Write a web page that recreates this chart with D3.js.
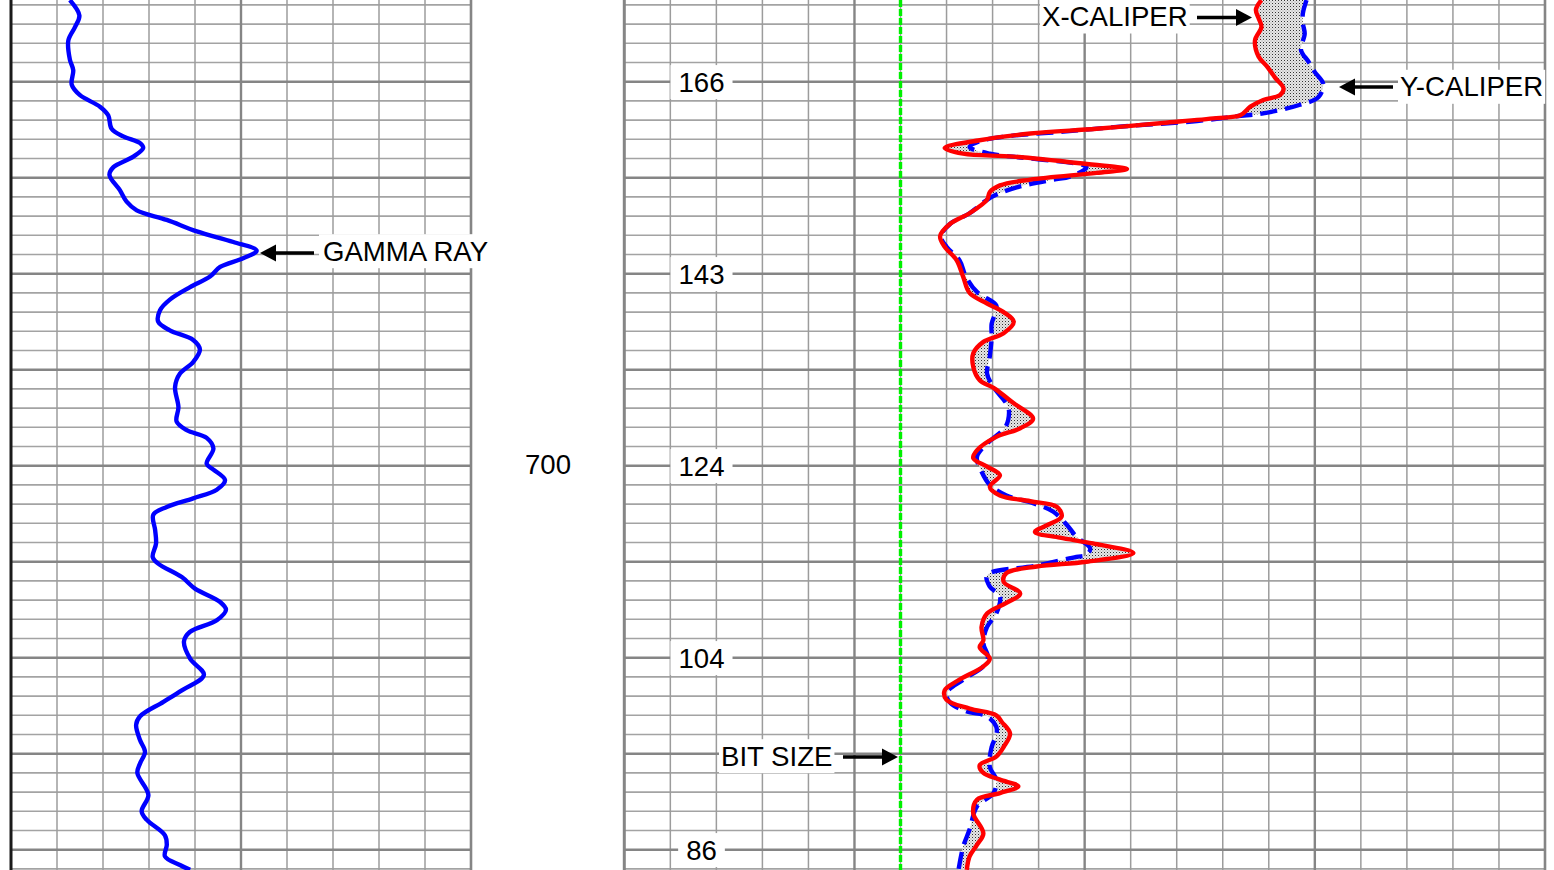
<!DOCTYPE html>
<html><head><meta charset="utf-8">
<script src="https://cdn.jsdelivr.net/npm/d3@7"></script>
<style>html,body{margin:0;padding:0;background:#fff;overflow:hidden}</style>
</head><body><svg id="c" width="1554" height="870"></svg>
<script>
// ---------------- DATA ----------------
// Gamma ray: [depth (ft), API]
const gammaRay = [
[651.5,19.2],[653.1,22.3],[654.3,20.9],[655.7,18.7],[657.7,19.2],[658.8,20.3],[660.3,19.8],[661.4,22.5],[662.6,29.0],[663.5,31.7],[664.9,32.8],[665.7,36.6],[666.4,42.1],[666.9,43.1],[667.8,39.9],[668.9,33.4],[669.7,32.1],[671.3,35.5],[672.5,37.7],[673.4,41.0],[674.4,50.8],[675.6,60.6],[676.7,72.5],[677.6,80.1],[678.4,75.7],[679.3,68.2],[680.3,64.9],[681.4,58.4],[682.7,51.8],[683.8,48.6],[685.0,48.0],[685.9,51.8],[686.9,59.4],[687.9,61.6],[689.2,59.4],[690.4,55.1],[691.8,53.5],[693.9,54.6],[695.4,54.0],[696.3,57.3],[697.1,63.8],[698.2,66.0],[699.8,63.8],[700.4,66.0],[701.5,69.8],[702.5,67.1],[703.4,59.4],[704.3,50.8],[705.1,46.4],[706.7,47.0],[708.1,47.3],[709.5,46.2],[710.2,48.0],[711.6,55.7],[712.8,60.0],[714.2,68.2],[715.0,70.1],[716.1,67.1],[717.3,58.4],[718.3,56.4],[720.1,58.4],[721.8,62.9],[723.4,55.7],[724.6,49.7],[726.1,42.1],[727.0,40.8],[728.6,42.1],[729.8,43.7],[731.0,42.1],[732.0,41.2],[734.3,44.8],[736.0,42.6],[736.9,44.3],[738.5,50.2],[739.5,50.8],[740.7,50.2],[741.6,55.1],[742.1,58.4]
];
// X-caliper: [depth (ft), inches]
const xCaliper = [
[651.5,12.92],[652.5,12.86],[653.4,12.89],[654.3,12.92],[655.7,12.85],[657.4,12.89],[658.4,12.98],[659.6,13.07],[660.7,13.16],[661.4,13.12],[661.9,12.94],[662.6,12.80],[663.5,12.69],[663.8,12.43],[664.3,11.85],[664.9,11.13],[665.4,10.41],[666.1,9.86],[666.9,9.48],[667.5,9.68],[667.8,10.23],[668.5,10.95],[669.1,11.46],[669.5,11.13],[670.2,10.41],[670.8,10.08],[671.5,9.97],[672.3,9.94],[673.7,9.75],[674.8,9.54],[676.1,9.43],[677.2,9.48],[678.6,9.61],[680.3,9.68],[682.0,9.75],[683.1,9.94],[684.0,10.12],[685.0,10.23],[686.2,10.12],[687.1,9.90],[688.3,9.79],[689.7,9.79],[691.1,9.86],[691.9,10.01],[693.5,10.23],[695.1,10.44],[696.1,10.30],[697.0,10.04],[698.4,9.83],[699.2,9.79],[700.1,9.94],[701.0,10.08],[702.2,9.97],[703.1,10.08],[703.7,10.41],[704.3,10.70],[705.3,10.75],[706.2,10.59],[706.9,10.46],[707.5,10.73],[708.1,11.09],[709.1,11.53],[710.0,11.02],[710.5,10.48],[711.2,10.15],[712.1,10.12],[713.3,10.30],[714.3,10.15],[715.4,9.94],[716.8,9.88],[718.2,9.90],[718.9,9.86],[720.1,9.97],[720.9,9.90],[722.4,9.62],[723.4,9.48],[724.4,9.50],[725.3,9.75],[726.0,10.04],[726.7,10.10],[727.9,10.19],[729.3,10.12],[730.3,10.04],[731.2,9.86],[732.0,9.90],[732.7,10.08],[733.4,10.28],[734.1,10.08],[734.8,9.83],[736.2,9.79],[738.3,9.90],[739.5,9.83],[740.7,9.75],[742.1,9.72]
];
// Y-caliper: [depth (ft), inches]
const yCaliper = [
[651.5,13.41],[652.9,13.37],[653.9,13.37],[655.0,13.39],[656.7,13.35],[657.9,13.43],[659.0,13.50],[660.2,13.59],[661.6,13.54],[662.4,13.34],[663.3,12.94],[663.6,12.65],[664.1,12.22],[664.6,11.49],[665.2,10.77],[665.7,10.15],[666.2,9.86],[666.8,9.75],[667.5,9.97],[668.0,10.41],[668.9,11.02],[669.9,10.84],[670.2,10.66],[670.9,10.30],[671.6,10.08],[672.3,9.94],[673.7,9.75],[674.8,9.54],[676.1,9.44],[677.2,9.50],[678.6,9.64],[680.3,9.71],[681.9,9.83],[683.3,10.04],[684.1,10.03],[685.2,9.99],[686.6,9.99],[688.6,9.97],[690.4,9.94],[691.8,10.01],[693.9,10.17],[695.2,10.17],[696.1,10.13],[697.7,9.94],[699.1,9.83],[700.6,9.88],[702.0,9.97],[703.1,10.15],[703.9,10.44],[704.8,10.66],[706.2,10.81],[707.4,10.91],[708.6,11.06],[709.3,11.02],[709.5,10.91],[710.4,10.48],[711.4,9.94],[712.6,9.97],[713.6,10.08],[715.4,10.04],[716.8,9.94],[718.5,9.90],[719.9,9.95],[720.9,9.90],[722.3,9.68],[723.7,9.50],[724.7,9.54],[725.6,9.72],[726.1,9.94],[727.2,10.04],[728.1,10.04],[729.3,9.99],[731.4,9.97],[732.7,10.04],[734.1,10.01],[735.5,9.83],[737.9,9.75],[739.7,9.68],[742.1,9.63]
];
const bitSize = 9;
const depthTickValues = [700];
const depthTickLabels = ["700"];
const trackLabelDepths = [660, 680, 700, 720, 740];
const trackLabelTexts = ["166", "143", "124", "104", "86"];
const curveLabels = ["GAMMA RAY", "X-CALIPER", "Y-CALIPER", "BIT SIZE"];

// ---------------- LAYOUT ----------------
const W = 1554, H = 870;
const FONT = "'Liberation Sans', Arial, Helvetica, sans-serif";
const FS = 27.6;
const svg = d3.select("#c");
svg.append("rect").attr("width", W).attr("height", H).attr("fill", "#fff");

const y = d3.scaleLinear().domain([650, 750]).range([465.7 - 480, 465.7 + 480]);
const xGR = d3.scaleLinear().domain([0, 150]).range([11, 471]);
const xCal = d3.scaleLinear().domain([6, 16]).range([624.3, 1545]);

const defs = svg.append("defs");
const pat = defs.append("pattern").attr("id", "stip").attr("width", 3).attr("height", 3)
  .attr("patternUnits", "userSpaceOnUse");
pat.append("rect").attr("width", 3).attr("height", 3).attr("fill", "#e6e6e6");
pat.append("rect").attr("width", 1).attr("height", 1).attr("fill", "#333");
pat.append("rect").attr("x", 1.5).attr("y", 1.5).attr("width", 1).attr("height", 1).attr("fill", "#999");

defs.append("clipPath").attr("id", "clipL").append("rect")
  .attr("x", xGR.range()[0]).attr("y", 0).attr("width", xGR.range()[1] - xGR.range()[0]).attr("height", H);
defs.append("clipPath").attr("id", "clipR").append("rect")
  .attr("x", xCal.range()[0]).attr("y", 0).attr("width", xCal.range()[1] - xCal.range()[0]).attr("height", H);

// ---------------- GRID ----------------
const depthLines = d3.range(652, 744, 2);
const minorCol = "#a3a3a3", majorCol = "#858585";
function drawTrackGrid(xs, vVals, vMajor) {
  const g = svg.append("g");
  const [x0, x1] = xs.range();
  g.selectAll(".hm").data(depthLines.filter(d => d % 10 !== 0)).join("line")
    .attr("x1", x0).attr("x2", x1).attr("y1", d => y(d)).attr("y2", d => y(d))
    .attr("stroke", minorCol).attr("stroke-width", 1.6);
  g.selectAll(".vm").data(vVals.filter(v => !vMajor.includes(v))).join("line")
    .attr("x1", d => xs(d)).attr("x2", d => xs(d)).attr("y1", 0).attr("y2", H)
    .attr("stroke", "#9c9c9c").attr("stroke-width", 1.5);
  g.selectAll(".hM").data(depthLines.filter(d => d % 10 === 0)).join("line")
    .attr("x1", x0).attr("x2", x1).attr("y1", d => y(d)).attr("y2", d => y(d))
    .attr("stroke", majorCol).attr("stroke-width", 2.6);
  g.selectAll(".vM").data(vMajor).join("line")
    .attr("x1", d => xs(d)).attr("x2", d => xs(d)).attr("y1", 0).attr("y2", H)
    .attr("stroke", majorCol).attr("stroke-width", 2.4);
  return g;
}
drawTrackGrid(xGR, d3.range(15, 150, 15), [75]);
drawTrackGrid(xCal, d3.range(6.5, 16, 0.5), [8.5, 11, 13.5]);

svg.append("line").attr("x1", xGR(0)).attr("x2", xGR(0)).attr("y1", 0).attr("y2", H).attr("stroke", "#1a1a1a").attr("stroke-width", 3);
svg.append("line").attr("x1", xGR(150)).attr("x2", xGR(150)).attr("y1", 0).attr("y2", H).attr("stroke", majorCol).attr("stroke-width", 2.6);
svg.append("line").attr("x1", xCal(6)).attr("x2", xCal(6)).attr("y1", 0).attr("y2", H).attr("stroke", majorCol).attr("stroke-width", 3);
svg.append("line").attr("x1", xCal(16)).attr("x2", xCal(16)).attr("y1", 0).attr("y2", H).attr("stroke", majorCol).attr("stroke-width", 2.6);

// ---------------- CURVES ----------------
const curve = d3.curveCatmullRom.alpha(0.5);
const lineGR = d3.line().x(d => xGR(d[1])).y(d => y(d[0])).curve(curve);
const lineCal = d3.line().x(d => xCal(d[1])).y(d => y(d[0])).curve(curve);

const gR = svg.append("g").attr("clip-path", "url(#clipR)");
const pathRed = lineCal(xCaliper);
const pathBlueRev = lineCal(yCaliper.slice().reverse());
gR.append("path").attr("d", pathRed + "L" + pathBlueRev.slice(1) + "Z")
  .attr("fill", "url(#stip)").attr("fill-rule", "evenodd").attr("stroke", "none");

gR.append("line").attr("x1", xCal(bitSize)).attr("x2", xCal(bitSize)).attr("y1", 0).attr("y2", H)
  .attr("stroke", "#00f000").attr("stroke-width", 3.4).attr("stroke-dasharray", "7,2");

gR.append("path").attr("d", lineCal(yCaliper)).attr("fill", "none")
  .attr("stroke", "#0000ff").attr("stroke-width", 4.4).attr("stroke-dasharray", "17,8");
gR.append("path").attr("d", pathRed).attr("fill", "none")
  .attr("stroke", "#ff0000").attr("stroke-width", 4.4).attr("stroke-linejoin", "round");

svg.append("g").attr("clip-path", "url(#clipL)").append("path")
  .attr("d", lineGR(gammaRay)).attr("fill", "none")
  .attr("stroke", "#0000ff").attr("stroke-width", 4.4).attr("stroke-linejoin", "round");

// ---------------- TEXT ----------------
function label(x, baseline, txt, anchor, padX, padY) {
  const g = svg.append("g");
  const bg = g.append("rect").attr("fill", "#fff");
  const t = g.append("text").attr("x", x).attr("y", baseline).attr("text-anchor", anchor)
    .attr("font-family", FONT).attr("font-size", FS).attr("fill", "#000").text(txt);
  const b = t.node().getBBox();
  bg.attr("x", b.x - padX).attr("y", b.y - padY).attr("width", b.width + 2 * padX).attr("height", b.height + 2 * padY);
  return g;
}
function arrow(xTail, xTip, yy) {
  const dir = Math.sign(xTip - xTail);
  const head = 16, hw = 8.5;
  svg.append("line").attr("x1", xTail).attr("x2", xTip - dir * head + dir * 1).attr("y1", yy).attr("y2", yy)
    .attr("stroke", "#000").attr("stroke-width", 3.6);
  svg.append("path").attr("d", `M${xTip},${yy}L${xTip - dir * head},${yy - hw}L${xTip - dir * head},${yy + hw}Z`).attr("fill", "#000");
}
const capOff = 0.358 * FS;

trackLabelDepths.forEach((d, i) => label(701.5, y(d) + capOff, trackLabelTexts[i], "middle", 8, 1.5));
depthTickValues.forEach((d, i) => label(548, y(d) + capOff - 1.5, depthTickLabels[i], "middle", 4, 1));

label(323, 260.7, curveLabels[0], "start", 4, 1.5);
arrow(314, 260, 253);
label(1042, 26, curveLabels[1], "start", 2, 1.5);
arrow(1197, 1252, 17.5);
label(1400, 96.3, curveLabels[2], "start", 2, 1.5);
arrow(1393, 1339, 87);
label(721, 765.7, curveLabels[3], "start", 2, 1.5);
arrow(843, 898, 757);
</script>
</body></html>
